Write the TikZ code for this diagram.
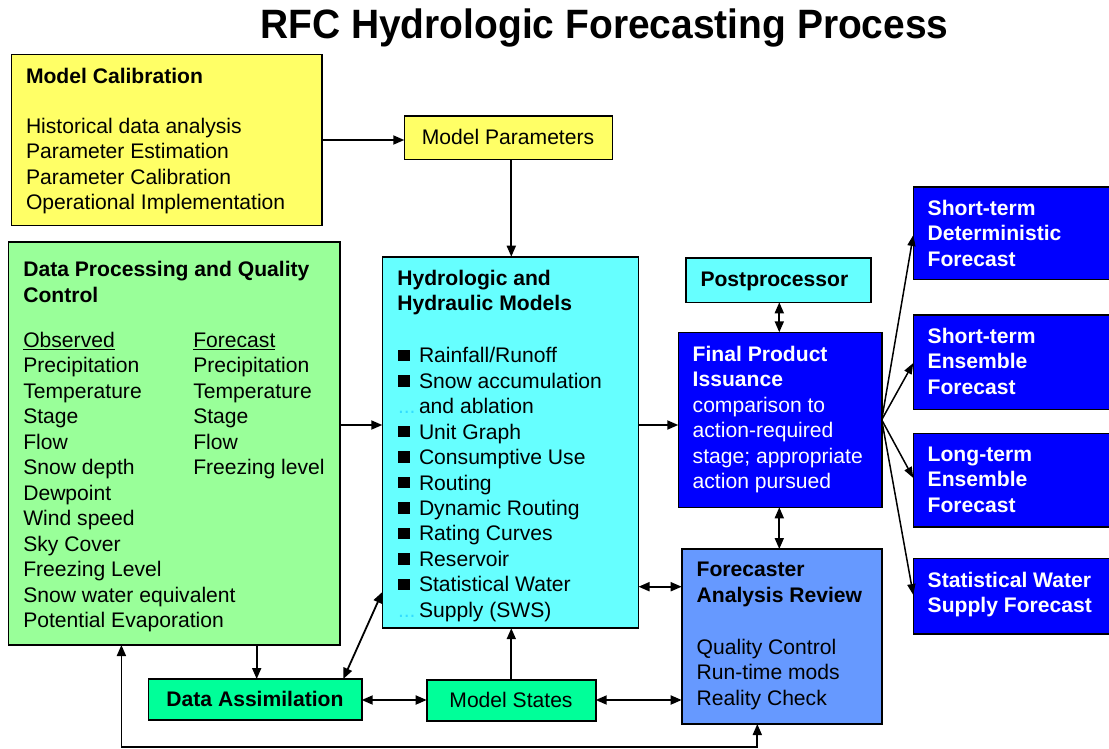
\documentclass[tikz,border=0pt]{standalone}
\usepackage{fontspec}
\setmainfont{Liberation Sans}
\usetikzlibrary{arrows.meta}
\definecolor{cyel}{HTML}{FFFF66}
\definecolor{cgrn}{HTML}{99FF99}
\definecolor{ccyan}{HTML}{66FFFF}
\definecolor{cblue}{HTML}{0000FF}
\definecolor{cfore}{HTML}{6699FF}
\definecolor{cass}{HTML}{00FF99}
\definecolor{cdot}{HTML}{33DDFF}
\newcommand{\bul}{\makebox[21pt][l]{\rule[1.6pt]{12pt}{11.5pt}}}
\newcommand{\hid}{\makebox[21pt][l]{\textcolor{cdot}{...}}}
\begin{document}
\begin{tikzpicture}[x=1pt,y=-1pt,
  box/.style={draw=black, line width=1.6pt, inner sep=0pt, outer sep=0pt, anchor=north west},
  txt/.style={inner sep=0pt, outer sep=0pt, anchor=north west, align=left, font=\fontsize{21.1}{25.5}\selectfont},
  btxt/.style={txt, font=\fontsize{21.1}{25.5}\selectfont\bfseries},
  ctxt/.style={inner sep=0pt, outer sep=0pt, anchor=base, font=\fontsize{21.1}{25.5}\selectfont},
  tip/.tip={Triangle[length=11pt,width=9pt]},
  arr/.style={line width=1.8pt, -tip},
  darr/.style={line width=1.8pt, tip-tip},
  farr/.style={line width=1.5pt, -{Triangle[length=11pt,width=8pt]}},
]
\useasboundingbox (0,0) rectangle (1109,748);

% title
\node[ctxt, font=\fontsize{41}{48}\selectfont\bfseries] (title) at (604.5,38.6) {\scalebox{0.95}[1]{RFC Hydrologic Forecasting Process}};

% boxes
\node[box, fill=cyel, minimum width=310.5pt, minimum height=171pt] (mc) at (11.5,54.5) {};
\node[box, fill=cyel, minimum width=208pt, minimum height=43.6pt] (mp) at (404.3,115.7) {};
\node[box, fill=cgrn, minimum width=331.5pt, minimum height=403pt] (dp) at (8.5,242) {};
\node[box, fill=ccyan, minimum width=256.2pt, minimum height=371.5pt] (hyd) at (382.3,256.7) {};
\node[box, fill=ccyan, minimum width=184.7pt, minimum height=44.6pt] (pp) at (686,257.7) {};
\node[box, fill=cblue, minimum width=203.4pt, minimum height=175pt] (fp) at (678.3,332.3) {};
\node[box, fill=cfore, minimum width=200pt, minimum height=175pt] (far) at (681.7,549) {};
\node[box, fill=cblue, minimum width=200pt, minimum height=92.6pt] (f1) at (913.3,186.7) {};
\node[box, fill=cblue, minimum width=200pt, minimum height=94.3pt] (f2) at (913.3,315) {};
\node[box, fill=cblue, minimum width=200pt, minimum height=93.4pt] (f3) at (913.3,433.3) {};
\node[box, fill=cblue, minimum width=200pt, minimum height=75.7pt] (f4) at (913.3,558.3) {};
\node[box, fill=cass, minimum width=213.4pt, minimum height=41pt] (da) at (148.3,679) {};
\node[box, fill=cass, minimum width=169pt, minimum height=41pt] (ms) at (426.7,680) {};

% texts
\node[btxt] (mct) at (26,65.45) {\strut Model Calibration};
\node[txt] (mcb) at (26,115.45) {\strut Historical data analysis\\Parameter Estimation\\Parameter Calibration\\Operational Implementation};
\node[ctxt] (mpt) at (508,144.3) {Model Parameters};
\node[btxt] (dpt) at (23.3,258.85) {\strut Data Processing and Quality\\Control};
\node[txt] (dpo) at (23.3,329.45) {\strut\underline{Observed}\\Precipitation\\Temperature\\Stage\\Flow\\Snow depth\\Dewpoint\\Wind speed\\Sky Cover\\Freezing Level\\Snow water equivalent\\Potential Evaporation};
\node[txt] (dpf) at (193.3,329.45) {\strut\underline{Forecast}\\Precipitation\\Temperature\\Stage\\Flow\\Freezing level};
\node[btxt] (hydt) at (397.3,267.15) {\strut Hydrologic and\\Hydraulic Models};
\node[txt, font=\fontsize{21.1}{25.46}\selectfont] (hydl) at (398,344.88) {\strut\bul Rainfall/Runoff\\\bul Snow accumulation\\\hid and ablation\\\bul Unit Graph\\\bul Consumptive Use\\\bul Routing\\\bul Dynamic Routing\\\bul Rating Curves\\\bul Reservoir\\\bul Statistical Water\\\hid Supply (SWS)};
\node[ctxt, font=\fontsize{21.1}{25.5}\selectfont\bfseries] (ppt) at (774.4,286) {Postprocessor};
\node[txt, text=white] (fpt) at (692.7,343.15) {\strut\textbf{Final Product}\\\textbf{Issuance}\\comparison to\\action-required\\stage; appropriate\\action pursued};
\node[btxt] (fart) at (696.7,558.85) {\strut Forecaster\\Analysis Review};
\node[txt] (farb) at (696.7,636.15) {\strut Quality Control\\Run-time mods\\Reality Check};
\node[btxt, text=white] (f1t) at (927.7,197.15) {\strut Short-term\\Deterministic\\Forecast};
\node[btxt, text=white] (f2t) at (927.7,325.45) {\strut Short-term\\Ensemble\\Forecast};
\node[btxt, text=white] (f3t) at (927.7,443.15) {\strut Long-term\\Ensemble\\Forecast};
\node[btxt, text=white] (f4t) at (927.7,569.45) {\strut Statistical Water\\Supply Forecast};
\node[ctxt, font=\fontsize{21.1}{25.5}\selectfont\bfseries] (dat) at (255,706.7) {Data Assimilation};
\node[ctxt] (mst) at (511,707.7) {Model States};

% helper coordinates
\coordinate (ymc) at (0,140);
\coordinate (xmp) at (511.3,0);
\coordinate (ymid) at (0,425);
\coordinate (xpp) at (779.3,0);
\coordinate (yfar) at (0,586.7);
\coordinate (xda) at (256.7,0);
\coordinate (dadiag) at (343.3,679);
\coordinate (hyddiag) at (382.3,592);
\coordinate (ylow) at (0,700);
\coordinate (xloopl) at (121.4,0);
\coordinate (xloopr) at (757.3,0);
\coordinate (yloop) at (0,746.7);
\coordinate (y1) at (0,235);
\coordinate (y2) at (0,363);
\coordinate (y3) at (0,478);
\coordinate (y4) at (0,595);

% connectors
\draw[arr] (mc.east |- ymc) -- (mp.west |- ymc);
\draw[arr] (mp.south -| xmp) -- (hyd.north -| xmp);
\draw[arr] (dp.east |- ymid) -- (hyd.west |- ymid);
\draw[arr] (hyd.east |- ymid) -- (fp.west |- ymid);
\draw[darr] (pp.south -| xpp) -- (fp.north -| xpp);
\draw[darr] (fp.south -| xpp) -- (far.north -| xpp);
\draw[darr] (hyd.east |- yfar) -- (far.west |- yfar);
\draw[arr] (dp.south -| xda) -- (da.north -| xda);
\draw[darr] (dadiag) -- (hyddiag);
\draw[darr] (da.east |- ylow) -- (ms.west |- ylow);
\draw[arr] (ms.north -| xmp) -- (hyd.south -| xmp);
\draw[darr] (ms.east |- ylow) -- (far.west |- ylow);
\draw[darr] (far.south -| xloopr) -- (xloopr |- yloop) -- (xloopl |- yloop) -- (dp.south -| xloopl);
\draw[farr] (fp.east) -- (f1.west |- y1);
\draw[farr] (fp.east) -- (f2.west |- y2);
\draw[farr] (fp.east) -- (f3.west |- y3);
\draw[farr] (fp.east) -- (f4.west |- y4);
\end{tikzpicture}
\end{document}
